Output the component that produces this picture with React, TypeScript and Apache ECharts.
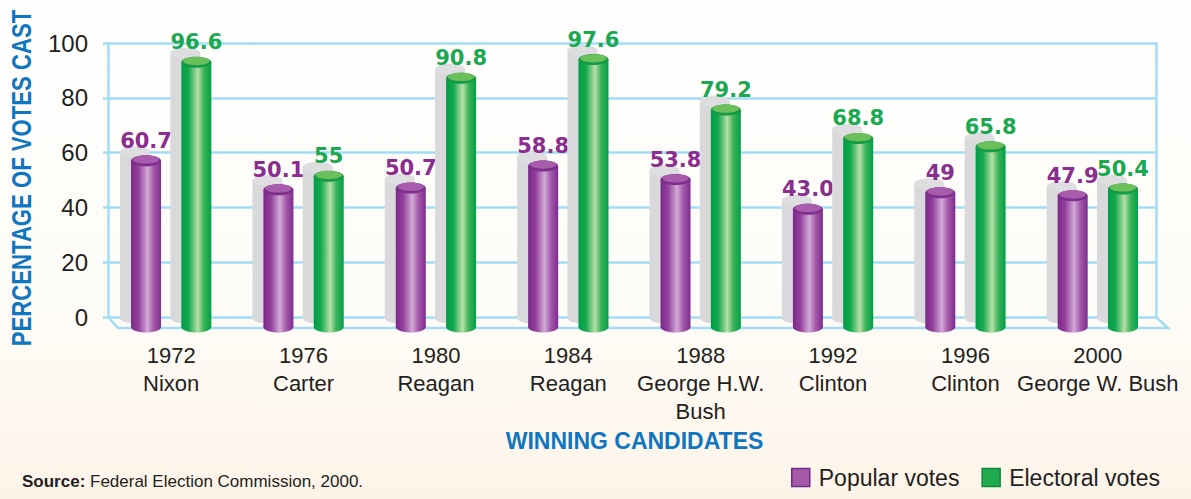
import React, { useEffect, useRef } from "react";
import * as echarts from "echarts";

const years = ["1972", "1976", "1980", "1984", "1988", "1992", "1996", "2000"];
const winners = ["Nixon", "Carter", "Reagan", "Reagan", "George H.W.\nBush", "Clinton", "Clinton", "George W. Bush"];
const popularVotes = [60.7, 50.1, 50.7, 58.8, 53.8, 43.0, 49, 47.9];
const electoralVotes = [96.6, 55, 90.8, 97.6, 79.2, 68.8, 65.8, 50.4];
const popularLabels = ["60.7", "50.1", "50.7", "58.8", "53.8", "43.0", "49", "47.9"];
const electoralLabels = ["96.6", "55", "90.8", "97.6", "79.2", "68.8", "65.8", "50.4"];
const seriesNames = ["Popular votes", "Electoral votes"];

const FONT = "'Liberation Sans', Arial, sans-serif";
const GRID_BLUE = "#a2dcf5";

const purpleGrad = () =>
  new echarts.graphic.LinearGradient(0, 0, 1, 0, [
    { offset: 0, color: "#7a278b" },
    { offset: 0.25, color: "#93409c" },
    { offset: 0.55, color: "#d2aad6" },
    { offset: 0.75, color: "#a45aab" },
    { offset: 1, color: "#7e2b8e" },
  ]);
const greenGrad = () =>
  new echarts.graphic.LinearGradient(0, 0, 1, 0, [
    { offset: 0, color: "#009d47" },
    { offset: 0.25, color: "#16a94f" },
    { offset: 0.55, color: "#b8dfaa" },
    { offset: 0.75, color: "#3cb35a" },
    { offset: 1, color: "#00a047" },
  ]);

function makeRender(dxRatio: number, gradFn: () => any, capColor: string, rimColor: string, labelColor: string, labels: string[]) {
  return (params: any, api: any) => {
    const ci = api.value(0);
    const v = api.value(1);
    const top = api.coord([ci, v]);
    const base = api.coord([ci, 0]);
    const band = api.size([1, 0])[0];
    const cx = top[0] + dxRatio * band;
    const w = 15;
    const ry = 5.5;
    const sx = -11;
    const sy = -9;
    const h = base[1] - top[1];
    return {
      type: "group",
      children: [
        { type: "rect", shape: { x: cx - w + sx, y: top[1] + sy, width: 2 * w, height: h }, style: { fill: "#d9d9db" } },
        { type: "ellipse", shape: { cx: cx + sx, cy: top[1] + sy, rx: w, ry }, style: { fill: "#dedee0" } },
        { type: "ellipse", shape: { cx: cx + sx, cy: base[1] + sy, rx: w, ry }, style: { fill: "#d9d9db" } },
        { type: "rect", shape: { x: cx - w, y: top[1], width: 2 * w, height: h }, style: { fill: gradFn() } },
        { type: "ellipse", shape: { cx, cy: base[1], rx: w, ry }, style: { fill: gradFn() } },
        { type: "ellipse", shape: { cx, cy: top[1], rx: w, ry }, style: { fill: rimColor } },
        { type: "ellipse", shape: { cx, cy: top[1] - 1.3, rx: w - 1.8, ry: ry - 1.4 }, style: { fill: capColor } },
        {
          type: "text",
          x: cx,
          y: top[1] - ry - 4,
          style: {
            text: labels[params.dataIndex],
            fill: labelColor,
            font: "bold 21px 'DejaVu Sans', sans-serif",
            textAlign: "center",
            textVerticalAlign: "bottom",
          },
        },
      ],
    };
  };
}

export default function App() {
  const ref = useRef<HTMLDivElement>(null);
  useEffect(() => {
    if (!ref.current) return;
    const chart = echarts.init(ref.current, undefined, { renderer: "svg" });
    const cats = years.map((y, i) => `${y}\n${winners[i]}`);
    chart.setOption({
      animation: false,
      title: {
        left: 17,
        bottom: 4,
        text: "{b|Source:} Federal Election Commission, 2000.",
        textStyle: {
          fontSize: 17,
          fontWeight: "normal",
          color: "#231f20",
          fontFamily: FONT,
          rich: { b: { fontSize: 17, fontWeight: "bold", color: "#231f20", fontFamily: FONT } },
        },
      },
      legend: {
        right: 26,
        bottom: 5,
        itemWidth: 18,
        itemHeight: 18,
        itemGap: 22,
        icon: "rect",
        textStyle: { fontSize: 23, color: "#231f20", fontFamily: FONT, padding: [0, 0, 0, 4] },
        data: [
          { name: seriesNames[0], itemStyle: { color: "#a55aa9", borderColor: "#6e2c8a", borderWidth: 1.5 } },
          { name: seriesNames[1], itemStyle: { color: "#22aa4e", borderColor: "#0b8a3c", borderWidth: 1.5 } },
        ],
      },
      grid: [
        { left: 108, right: 35, top: 43, height: 274, outerBoundsMode: "none", containLabel: false },
        { left: 105, right: 27, top: 53, height: 274, outerBoundsMode: "none", containLabel: false },
      ],
      xAxis: [
        { gridIndex: 0, type: "category", data: years, show: false },
        {
          gridIndex: 1,
          type: "category",
          data: cats,
          axisLine: { show: false },
          axisTick: { show: false },
          axisLabel: { interval: 0, fontSize: 22, lineHeight: 28, color: "#231f20", margin: 14, fontFamily: FONT },
          name: "WINNING CANDIDATES",
          nameLocation: "middle",
          nameGap: 102,
          nameTextStyle: { fontSize: 23, fontWeight: "bold", color: "#0f76bf", fontFamily: FONT },
        },
      ],
      yAxis: [
        {
          gridIndex: 0,
          type: "value",
          min: 0,
          max: 100,
          interval: 20,
          axisLine: { show: true, lineStyle: { color: GRID_BLUE, width: 2.5 } },
          axisTick: { show: true, length: 5, lineStyle: { color: GRID_BLUE, width: 2.5 } },
          splitLine: { show: true, lineStyle: { color: GRID_BLUE, width: 2.5 } },
          axisLabel: { fontSize: 24, color: "#231f20", margin: 20, fontFamily: FONT },
        },
        {
          gridIndex: 0,
          type: "value",
          min: 0,
          max: 100,
          interval: 20,
          position: "right",
          axisLine: { show: true, lineStyle: { color: GRID_BLUE, width: 2.5 } },
          axisTick: { show: false },
          axisLabel: { show: false },
          splitLine: { show: false },
        },
        { gridIndex: 1, type: "value", min: 0, max: 100, show: false },
      ],
      graphic: [
        {
          type: "polyline",
          shape: { points: [[108, 317], [118, 328], [1168, 328], [1156, 317]] },
          style: { stroke: GRID_BLUE, lineWidth: 2.5, fill: null },
          z: 1,
        },
        {
          type: "text",
          x: 22,
          y: 178,
          rotation: Math.PI / 2,
          scaleX: 0.82,
          style: {
            text: "PERCENTAGE OF VOTES CAST",
            fill: "#0f76bf",
            font: "bold 27px 'Liberation Sans', Arial, sans-serif",
            textAlign: "center",
            textVerticalAlign: "middle",
          },
        },
      ],
      series: [
        {
          name: seriesNames[0],
          type: "custom",
          xAxisIndex: 1,
          yAxisIndex: 2,
          itemStyle: { color: "#a55aa9" },
          renderItem: makeRender(-0.19, purpleGrad, "#a85dac", "#7d2f8c", "#8b2d8f", popularLabels),
          data: popularVotes.map((v, i) => [i, v]),
          z: 3,
        },
        {
          name: seriesNames[1],
          type: "custom",
          xAxisIndex: 1,
          yAxisIndex: 2,
          itemStyle: { color: "#22aa4e" },
          renderItem: makeRender(0.19, greenGrad, "#6cc05c", "#159a45", "#1aa851", electoralLabels),
          data: electoralVotes.map((v, i) => [i, v]),
          z: 3,
        },
      ],
    });
    return () => chart.dispose();
  }, []);
  return (
    <div
      ref={ref}
      style={{
        position: "fixed",
        left: 0,
        top: 0,
        width: 1191,
        height: 499,
        background: "linear-gradient(180deg, #fefefd 0%, #fefcf8 60%, #fdf4e8 100%)",
      }}
    />
  );
}
